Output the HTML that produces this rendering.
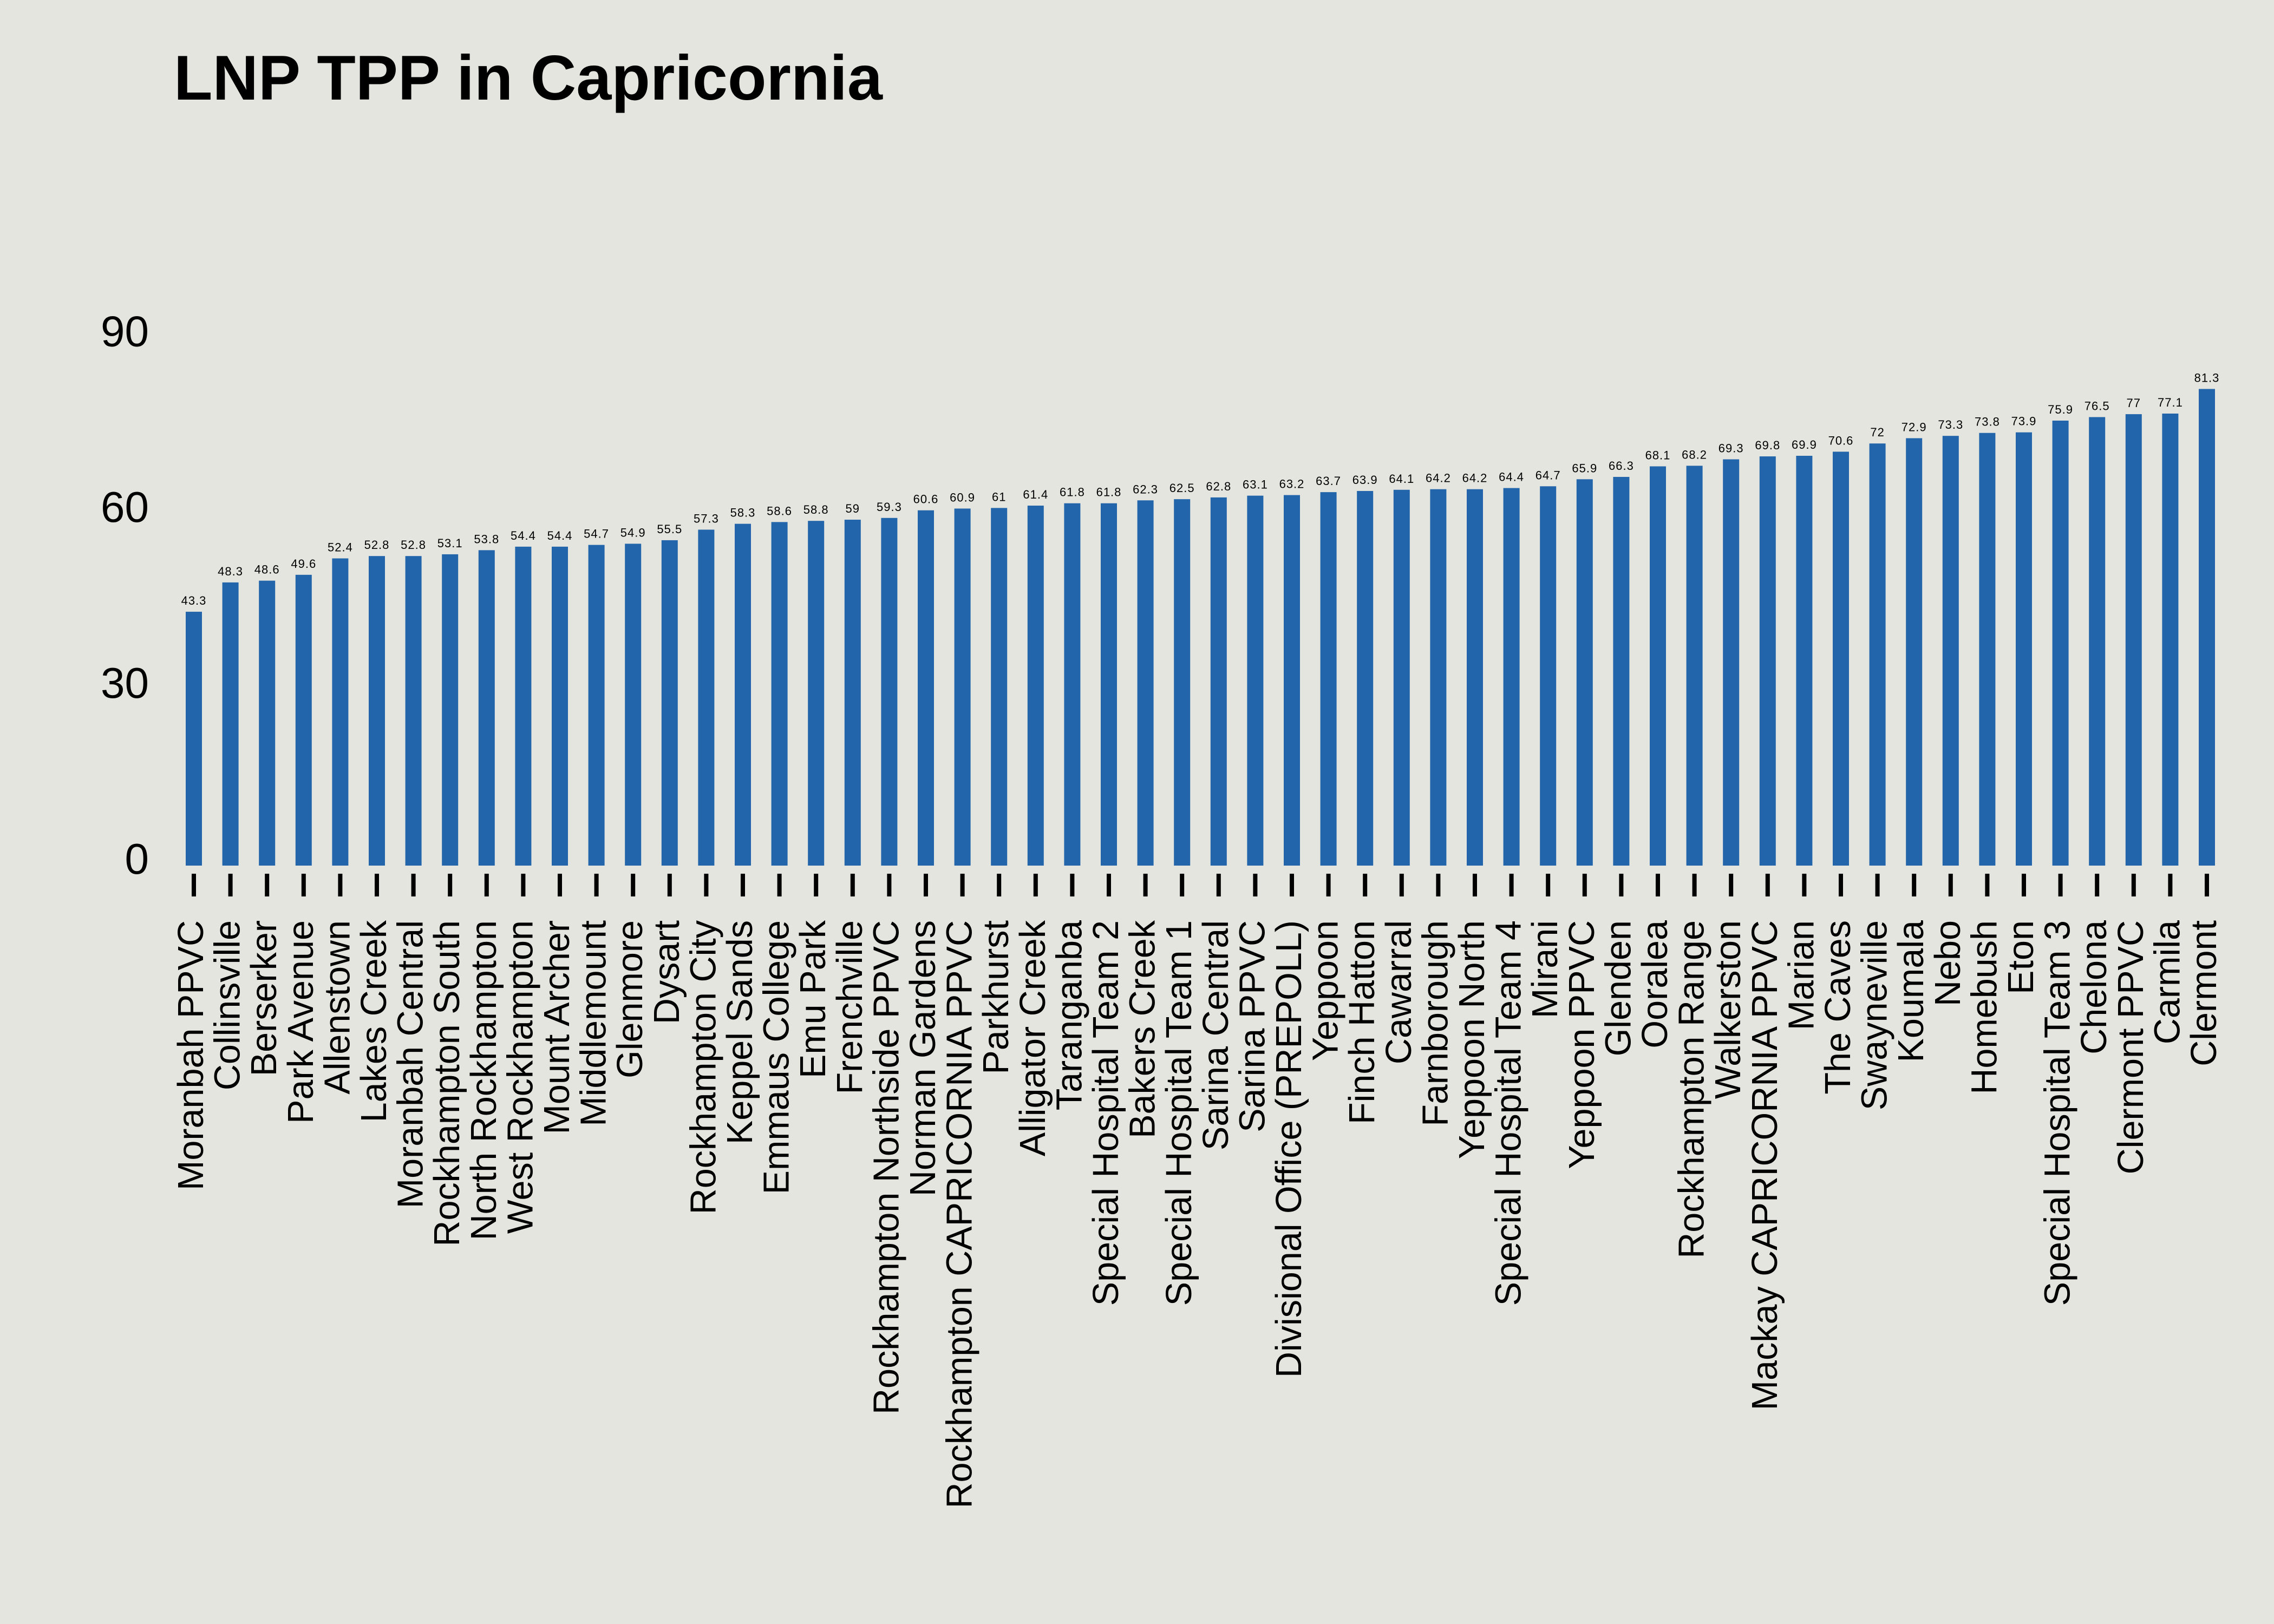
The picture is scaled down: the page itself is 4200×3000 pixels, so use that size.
<!DOCTYPE html>
<html><head><meta charset="utf-8"><style>
html,body{margin:0;padding:0;background:#e4e5df;}
svg{display:block;}
text{font-family:"Liberation Sans",sans-serif;}
</style></head><body>
<svg id="chart" width="4200" height="3000" viewBox="0 0 4200 3000" xmlns="http://www.w3.org/2000/svg">
<rect x="0" y="0" width="4200" height="3000" fill="#e4e5df"/>
<text x="321" y="184" font-size="117" font-weight="bold" fill="#000">LNP TPP in Capricornia</text>
<g id="yaxis"></g>
<g id="bars"></g>
<g id="xaxis"></g>
</svg>
<script>
const categories = ["Moranbah PPVC","Collinsville","Berserker","Park Avenue","Allenstown","Lakes Creek","Moranbah Central","Rockhampton South","North Rockhampton","West Rockhampton","Mount Archer","Middlemount","Glenmore","Dysart","Rockhampton City","Keppel Sands","Emmaus College","Emu Park","Frenchville","Rockhampton Northside PPVC","Norman Gardens","Rockhampton CAPRICORNIA PPVC","Parkhurst","Alligator Creek","Taranganba","Special Hospital Team 2","Bakers Creek","Special Hospital Team 1","Sarina Central","Sarina PPVC","Divisional Office (PREPOLL)","Yeppoon","Finch Hatton","Cawarral","Farnborough","Yeppoon North","Special Hospital Team 4","Mirani","Yeppoon PPVC","Glenden","Ooralea","Rockhampton Range","Walkerston","Mackay CAPRICORNIA PPVC","Marian","The Caves","Swayneville","Koumala","Nebo","Homebush","Eton","Special Hospital Team 3","Chelona","Clermont PPVC","Carmila","Clermont"];
const values = [43.3,48.3,48.6,49.6,52.4,52.8,52.8,53.1,53.8,54.4,54.4,54.7,54.9,55.5,57.3,58.3,58.6,58.8,59,59.3,60.6,60.9,61,61.4,61.8,61.8,62.3,62.5,62.8,63.1,63.2,63.7,63.9,64.1,64.2,64.2,64.4,64.7,65.9,66.3,68.1,68.2,69.3,69.8,69.9,70.6,72,72.9,73.3,73.8,73.9,75.9,76.5,77,77.1,81.3];
const yTicks = [0,30,60,90];

const NS = "http://www.w3.org/2000/svg";
const x0 = 358, step = 67.6, barW = 30;
const yBase = 1599, pxPerUnit = 10.83;
function xPos(i){ return x0 + i*step; }
function yPos(v){ return yBase - v*pxPerUnit; }
function mk(tag, attrs, parent){
  const el = document.createElementNS(NS, tag);
  for (const k in attrs) el.setAttribute(k, attrs[k]);
  parent.appendChild(el);
  return el;
}
const yaxis = document.getElementById('yaxis');
yTicks.forEach(t => {
  const el = mk('text', {x: 275, y: yPos(t) + 15, 'font-size': 80, 'text-anchor': 'end', fill: '#000'}, yaxis);
  
  
  el.textContent = t;
});
const bars = document.getElementById('bars');
const xaxis = document.getElementById('xaxis');
values.forEach((v, i) => {
  const cx = xPos(i);
  const r = mk('rect', {x: cx - barW/2, y: yPos(v), width: barW, height: yBase - yPos(v), fill: '#2265ab'}, bars);
  
  
  const lab = mk('text', {x: cx, y: yPos(v) - 13, 'font-size': 22, 'text-anchor': 'middle', fill: '#000', 'letter-spacing': '1'}, bars);
  
  
  lab.textContent = v;
  const tk = mk('rect', {x: cx - 4, y: 1614, width: 8, height: 42, fill: '#000'}, xaxis);
  
  
  const bx = cx + 17;
  const xl = mk('text', {x: bx, y: 1700, 'font-size': 66.5, 'text-anchor': 'end', fill: '#000', transform: 'rotate(-90 ' + bx + ' 1700)'}, xaxis);
  
  
  xl.textContent = categories[i];
});
</script>
</body></html>
